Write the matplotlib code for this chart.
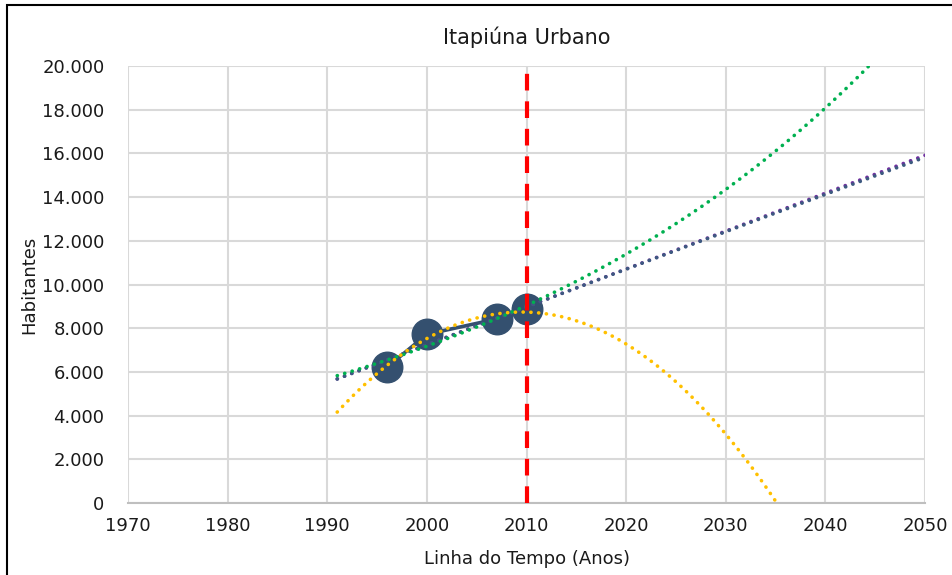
import numpy as np
import matplotlib
matplotlib.use("Agg")
import matplotlib.pyplot as plt
from matplotlib.ticker import FuncFormatter, MultipleLocator
from matplotlib.patches import Rectangle

# Census population (urban)
years = [1996, 2000, 2007, 2010]
population = [6211, 7721, 8421, 8865]

trend_start, trend_end = 1991, 2050
reference_year = 2010

x_ticks = [1970, 1980, 1990, 2000, 2010, 2020, 2030, 2040, 2050]
y_max = 20000

plt.rcParams['font.family'] = ['DejaVu Sans']
fig = plt.figure(figsize=(9.52, 5.75), dpi=100)
ax = fig.add_axes([128 / 952, 1 - 503 / 575, (925 - 128) / 952, (503 - 66) / 575])

xs = np.array(years, dtype=float)
ys = np.array(population, dtype=float)
xt = np.linspace(trend_start, trend_end, 400)

# Trendlines fitted to the census points
lin = np.polyfit(xs, ys, 1)
y_lin = np.polyval(lin, xt)
lg = np.polyfit(np.log(xs), ys, 1)
y_log = np.polyval(lg, np.log(xt))
ex = np.polyfit(xs - 2000, np.log(ys), 1)
y_exp = np.exp(np.polyval(ex, xt - 2000))
quad = np.polyfit(xs - 2000, ys, 2)
y_quad = np.polyval(quad, xt - 2000)

navy = '#34506F'
ax.plot(years, population, color=navy, lw=2.6, marker='o', ms=22,
        markerfacecolor=navy, markeredgecolor=navy, zorder=3)

dot = dict(lw=2.6, dashes=(0.05, 2.1), dash_capstyle='round', zorder=4)
ax.plot(xt, y_lin, color='#7030A0', **dot)
ax.plot(xt, y_log, color='#3D5A80', **dot)
ax.plot(xt, y_exp, color='#00B050', **dot)
ax.plot(xt, y_quad, color='#FFC000', **dot)

ax.plot([reference_year, reference_year], [0, y_max], color='#FF0000', lw=3,
        dashes=(4, 2.6), zorder=5)

ax.set_xlim(1970, 2050)
ax.set_ylim(0, y_max)
ax.set_xticks(x_ticks)
ax.yaxis.set_major_locator(MultipleLocator(2000))
ax.yaxis.set_major_formatter(FuncFormatter(lambda v, p: f"{int(v):,}".replace(",", ".")))
ax.grid(True, color='#D9D9D9', lw=1.5, zorder=0)
ax.set_axisbelow(True)
for s in ['top', 'right', 'left']:
    ax.spines[s].set_visible(False)
ax.spines['bottom'].set_color('#BFBFBF')
ax.spines['bottom'].set_linewidth(1.5)
ax.tick_params(length=0, labelsize=13, colors='#1A1A1A', pad=10)
ax.tick_params(axis='y', pad=17)

ax.set_title('Itapiúna Urbano', fontsize=15, color='#1A1A1A', pad=16)
ax.set_xlabel('Linha do Tempo (Anos)', fontsize=13, color='#1A1A1A', labelpad=11)
ax.set_ylabel('Habitantes', fontsize=13, color='#1A1A1A', labelpad=3)

# Chart-area border
fig.patches.append(Rectangle((7 / 952, -0.1), 1.2, 1 - 5 / 575 + 0.1,
                             transform=fig.transFigure, fill=False,
                             edgecolor='black', lw=1.5))

fig.savefig('out.png', dpi=100)
